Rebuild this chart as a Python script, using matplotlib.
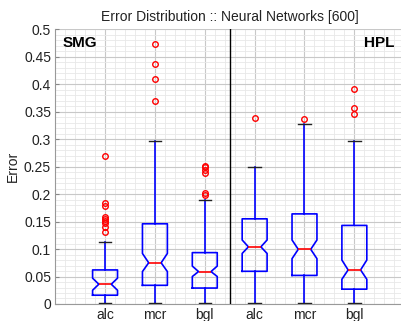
import matplotlib
matplotlib.use("Agg")
import matplotlib.pyplot as plt
from matplotlib.ticker import MultipleLocator

plt.rcParams['font.family'] = ['Liberation Sans', 'DejaVu Sans']

# ---- data ----
labels = ["alc", "mcr", "bgl", "alc", "mcr", "bgl"]
groups = ["SMG", "HPL"]
positions = [1, 2, 3, 4, 5, 6]
medians = [0.036, 0.075, 0.059, 0.104, 0.0995, 0.062]
q1s = [0.016, 0.034, 0.029, 0.0595, 0.052, 0.027]
q3s = [0.062, 0.146, 0.0935, 0.155, 0.164, 0.143]
ci_lo = [0.025, 0.059, 0.050, 0.092, 0.0825, 0.045]
ci_hi = [0.047, 0.092, 0.069, 0.1165, 0.1165, 0.080]
whis_lo = [0.001, 0.0025, 0.001, 0.001, 0.001, 0.001]
whis_hi = [0.113, 0.297, 0.189, 0.2495, 0.328, 0.296]
fliers = [
    [0.270, 0.183, 0.178, 0.158, 0.154, 0.151, 0.148, 0.141, 0.131],
    [0.473, 0.437, 0.409, 0.370],
    [0.251, 0.249, 0.244, 0.238, 0.202, 0.199],
    [0.338],
    [0.336],
    [0.392, 0.356, 0.346],
]
divider = 3.5

stats = []
for i in range(len(labels)):
    stats.append(dict(med=medians[i], q1=q1s[i], q3=q3s[i], cilo=ci_lo[i], cihi=ci_hi[i],
                      whislo=whis_lo[i], whishi=whis_hi[i], fliers=fliers[i], label=labels[i]))

fig = plt.figure(figsize=(4.02, 3.21), dpi=100)
ax = fig.add_axes([0.1373, 0.053, 0.8682, 0.8557])

ax.bxp(stats, positions=positions, widths=0.5, shownotches=True, showfliers=True,
       boxprops=dict(color='#0000ff', linewidth=1.2),
       whiskerprops=dict(color='#0000ff', linewidth=1.2, linestyle='-'),
       capprops=dict(color='#222222', linewidth=1.0),
       medianprops=dict(color='#ff0000', linewidth=1.2),
       flierprops=dict(marker='o', markerfacecolor='none', markeredgecolor='#ff0000',
                       markersize=4, markeredgewidth=1.0, linestyle='none'),
       zorder=3)

ax.axvline(divider, color='black', linewidth=1.0, zorder=4)

ax.set_xlim(0, 7)
ax.set_ylim(0, 0.5)
ax.yaxis.set_minor_locator(MultipleLocator(0.01))
ax.xaxis.set_minor_locator(MultipleLocator(0.2))
ax.set_xticks(positions)
ax.set_xticklabels(labels)
ax.set_yticks([0, 0.05, 0.1, 0.15, 0.2, 0.25, 0.3, 0.35, 0.4, 0.45, 0.5])
ax.set_yticklabels(['0', '0.05', '0.1', '0.15', '0.2', '0.25', '0.3', '0.35', '0.4', '0.45', '0.5'])

ax.grid(True, which='major', color='#c8c8c8', linewidth=0.8, zorder=0)
ax.grid(True, which='minor', color='#e8e8e8', linewidth=0.6, zorder=0)
ax.set_axisbelow(True)

ax.tick_params(axis='both', which='major', labelsize=10, direction='in', length=3,
               color='#888888', labelcolor='#222222', pad=3)
ax.tick_params(axis='both', which='minor', length=0)
for s in ['top', 'right']:
    ax.spines[s].set_visible(False)
for s in ['left', 'bottom']:
    ax.spines[s].set_color('#999999')
    ax.spines[s].set_linewidth(0.8)

ax.set_title("Error Distribution :: Neural Networks [600]", fontsize=10, color='#222222', pad=6)
ax.set_ylabel("Error", fontsize=10, color='#222222', labelpad=3)

ax.text(0.15, 0.475, groups[0], fontsize=11, fontweight='bold', ha='left', va='center')
ax.text(6.8, 0.475, groups[1], fontsize=11, fontweight='bold', ha='right', va='center')

fig.savefig("out.png", dpi=100)
